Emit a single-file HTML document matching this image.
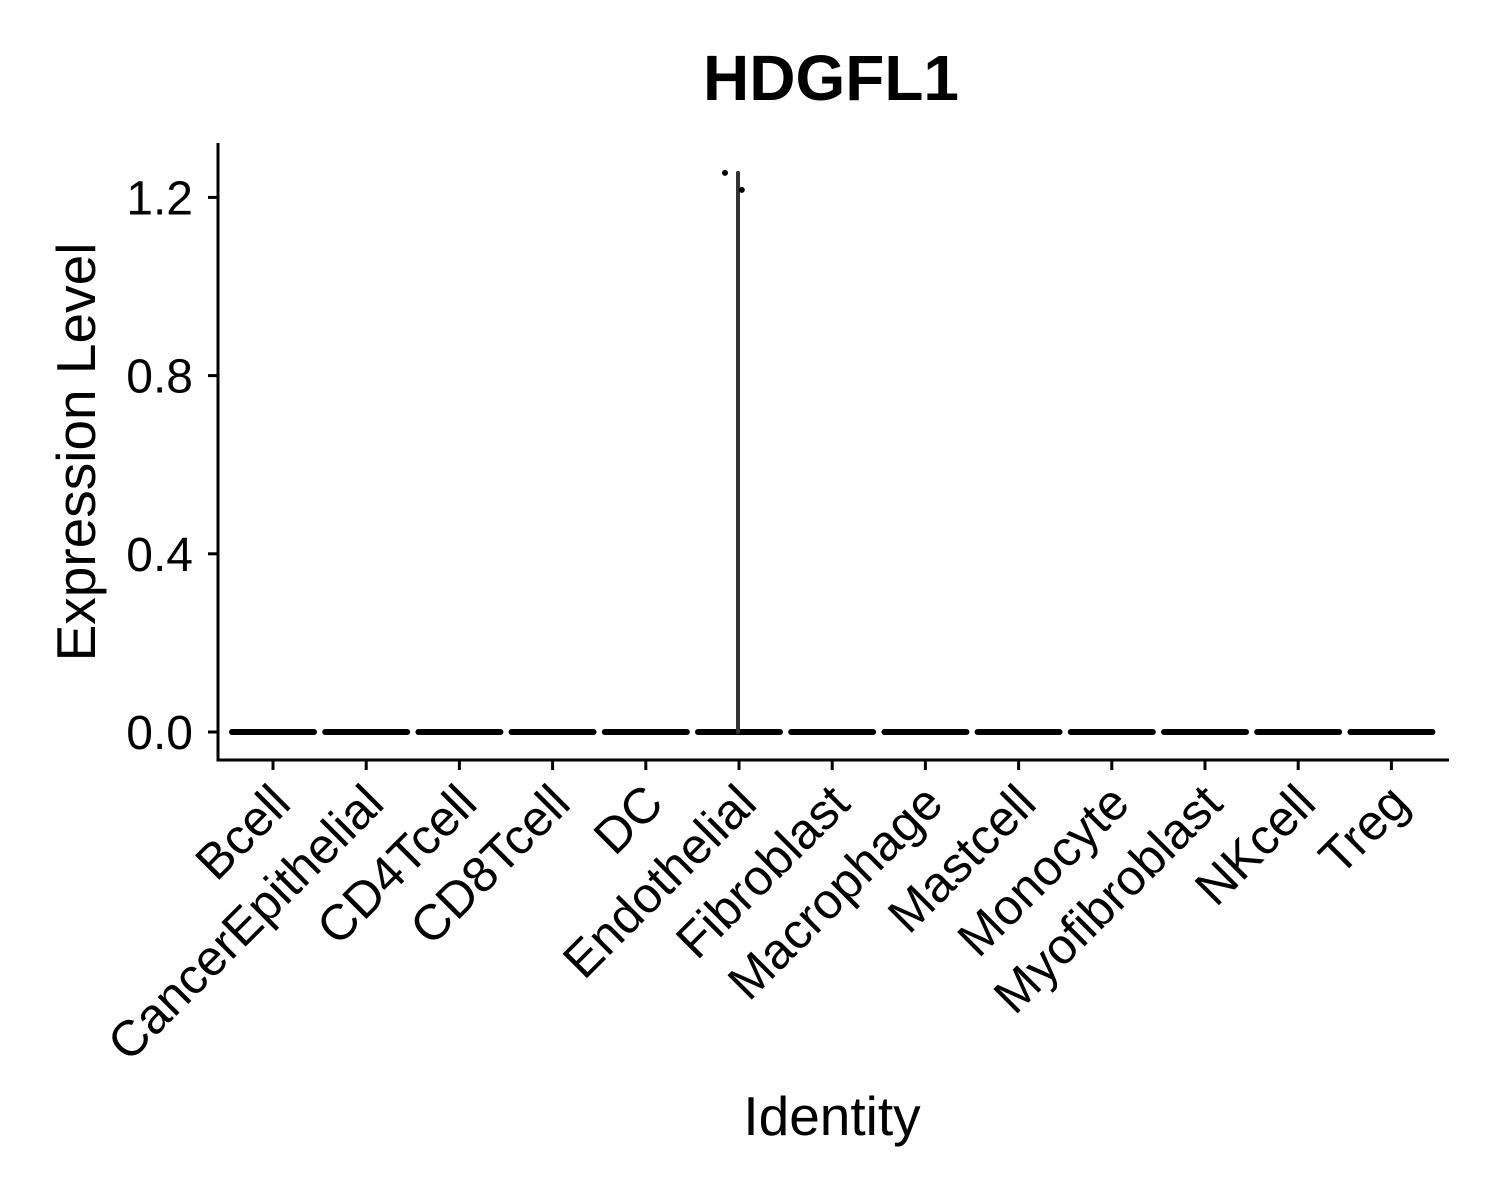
<!DOCTYPE html>
<html><head><meta charset="utf-8"><style>html,body{margin:0;background:#fff}svg{display:block}text{font-family:"Liberation Sans",Arial,sans-serif;fill:#000}</style></head>
<body>
<svg id="chart" width="1500" height="1200" viewBox="0 0 1500 1200" xmlns="http://www.w3.org/2000/svg">
<text x="831" y="100" font-size="64" font-weight="bold" text-anchor="middle">HDGFL1</text>
<g id="plot"></g>
<text transform="translate(95,452) rotate(-90)" font-size="55" text-anchor="middle">Expression Level</text>
<text x="832" y="1135" font-size="55" text-anchor="middle">Identity</text>
</svg>
<script>
const categories=["Bcell","CancerEpithelial","CD4Tcell","CD8Tcell","DC","Endothelial","Fibroblast","Macrophage","Mastcell","Monocyte","Myofibroblast","NKcell","Treg"];
const maxValues=[0,0,0,0,0,1.255,0,0,0,0,0,0,0];
const yTicks=[0,0.4,0.8,1.2];
const yTickLabels=["0.0","0.4","0.8","1.2"];
const outlierCat=[5,5];
const outlierOffset=[-0.15,0.03];
const outlierVal=[1.255,1.217];
const NS="http://www.w3.org/2000/svg";
const g=document.getElementById('plot');
function y(v){return 732-v*445.5;}
function x(i){return 273+i*93.2;}
function mk(t,a){const e=document.createElementNS(NS,t);for(const k in a)e.setAttribute(k,a[k]);g.appendChild(e);return e;}
let e;
e=mk('line',{x1:218,y1:143,x2:218,y2:761.5,stroke:'#000','stroke-width':3});


e=mk('line',{x1:216.5,y1:760,x2:1449,y2:760,stroke:'#000','stroke-width':3});


yTicks.forEach((v,i)=>{
 e=mk('line',{x1:208,y1:y(v),x2:218,y2:y(v),stroke:'#000','stroke-width':3});
 
 
 e=mk('text',{x:193,y:y(v)+17,'font-size':48,'text-anchor':'end'});e.textContent=yTickLabels[i];
 
 
});
categories.forEach((c,i)=>{
 const cx=x(i);
 e=mk('line',{x1:cx,y1:760,x2:cx,y2:770,stroke:'#000','stroke-width':3});
 
 
 e=mk('text',{transform:`translate(${cx+20},${806}) rotate(-45)`,'font-size':50,'text-anchor':'end'});e.textContent=c;
 
 
 e=mk('line',{x1:cx-41,y1:y(0),x2:cx+41,y2:y(0),stroke:'#000','stroke-width':6,'stroke-linecap':'round'});
 
 
 if(maxValues[i]>0){
  e=mk('line',{x1:cx-1,y1:y(0),x2:cx-1,y2:y(maxValues[i]),stroke:'#333','stroke-width':4,'stroke-linecap':'round'});
  
  
 }
});
outlierVal.forEach((v,k)=>{
 e=mk('circle',{cx:x(outlierCat[k])+outlierOffset[k]*93.2,cy:y(v),r:3,fill:'#000'});
 
 
});
</script>
</body></html>
